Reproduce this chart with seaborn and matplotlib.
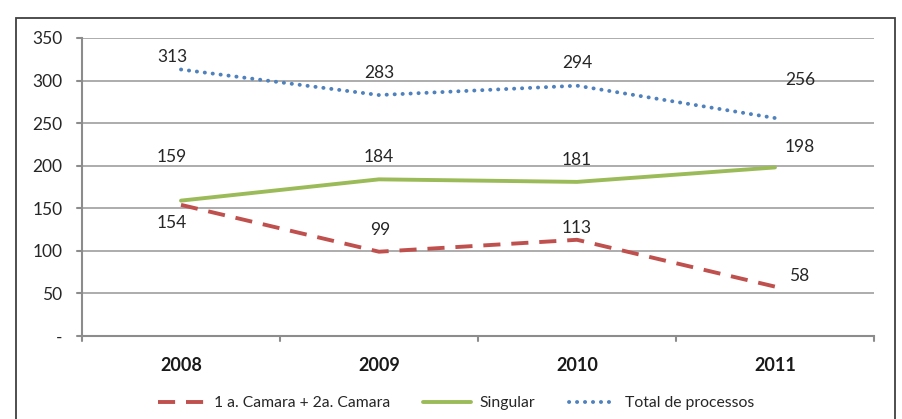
import matplotlib
matplotlib.use("Agg")
import matplotlib.pyplot as plt
import seaborn as sns
import pandas as pd
from matplotlib.patches import Rectangle

years = ["2008", "2009", "2010", "2011"]
camara = [154, 99, 113, 58]
singular = [159, 184, 181, 198]
total = [313, 283, 294, 256]
series_names = ["1 a. Camara + 2a. Camara", "Singular", "Total de processos"]
yticks = [0, 50, 100, 150, 200, 250, 300, 350]
ytick_labels = ["-", "50", "100", "150", "200", "250", "300", "350"]

sns.set_theme(style="white")
plt.rcParams["font.family"] = ["Lato", "DejaVu Sans"]

colors = ["#C0504D", "#9BBB59", "#4F81BD"]
# label offsets in pixels (dx, dy up)
offsets = [
    [(-9, -18), (1, 22), (0, 12), (24, 11)],
    [(-9, 44), (0, 22), (0, 22), (25, 20)],
    [(-9, 13), (0, 22), (0, 23), (25, 38)],
]

fig = plt.figure(figsize=(9.03, 4.19), dpi=100)
ax = fig.add_axes([82 / 903, 1 - 336 / 419, (874 - 82) / 903, (336 - 38) / 419])

df = pd.DataFrame({"year": years * 3,
                   "value": camara + singular + total,
                   "series": [s for s in series_names for _ in years]})

lw = 2.8
styles = [
    dict(dashes=(4.4, 2.8), dash_capstyle="butt"),
    dict(linestyle="-"),
    dict(dashes=(0.05, 2.0), dash_capstyle="round"),
]
handles = []
for i, name in enumerate(series_names):
    sub = df[df["series"] == name]
    sns.lineplot(data=sub, x="year", y="value", ax=ax, color=colors[i],
                 linewidth=lw, sort=False, legend=False)
    line = ax.lines[-1]
    if "dashes" in styles[i]:
        line.set_dashes(styles[i]["dashes"])
        line.set_dash_capstyle(styles[i]["dash_capstyle"])
    handles.append(line)
    for j, v in enumerate(sub["value"].tolist()):
        dx, dy = offsets[i][j]
        ax.annotate(str(v), (j, v), xytext=(dx * 0.72, dy * 0.72),
                    textcoords="offset points", ha="center", va="center",
                    fontsize=12.5, color="#262626")

ax.set_xlim(-0.5, 3.5)
ax.set_ylim(0, 350)
ax.set_yticks(yticks)
ax.set_yticklabels(ytick_labels)
ax.set_xticks(range(len(years)))
ax.set_xticklabels(years, fontweight="bold")
ax.set_xlabel("")
ax.set_ylabel("")
ax.grid(axis="y", color="#A6A6A6", linewidth=1.3)
ax.set_axisbelow(True)
for s in ["top", "right"]:
    ax.spines[s].set_visible(False)
for s in ["left", "bottom"]:
    ax.spines[s].set_color("#8C8C8C")
    ax.spines[s].set_linewidth(1.5)

ax.tick_params(axis="y", length=0, pad=14, labelsize=12.5, labelcolor="#262626")
ax.tick_params(axis="x", length=0, pad=15, labelsize=13, labelcolor="#1a1a1a")

# tick marks: y ticks to the left, x ticks at category boundaries
for y in yticks:
    ax.plot([-0.5 - 0.025, -0.5], [y, y], color="#8C8C8C", lw=1.5,
            clip_on=False, transform=ax.transData)
for b in [-0.5, 0.5, 1.5, 2.5, 3.5]:
    ax.plot([b, b], [0, -6], color="#8C8C8C", lw=1.5, clip_on=False)

leg = fig.legend(handles, series_names, loc="center", bbox_to_anchor=(456 / 903, 1 - 403 / 419),
                 ncol=3, frameon=False, fontsize=11.3, handlelength=3.0,
                 handletextpad=0.6, columnspacing=2.1)
for t in leg.get_texts():
    t.set_color("#262626")

fig.patches.append(Rectangle((16 / 903, -0.1), (895 - 16) / 903, 1 - 18 / 419 + 0.1,
                             transform=fig.transFigure, fill=False,
                             edgecolor="#404040", linewidth=1.3))

fig.savefig("out.png", dpi=100)
